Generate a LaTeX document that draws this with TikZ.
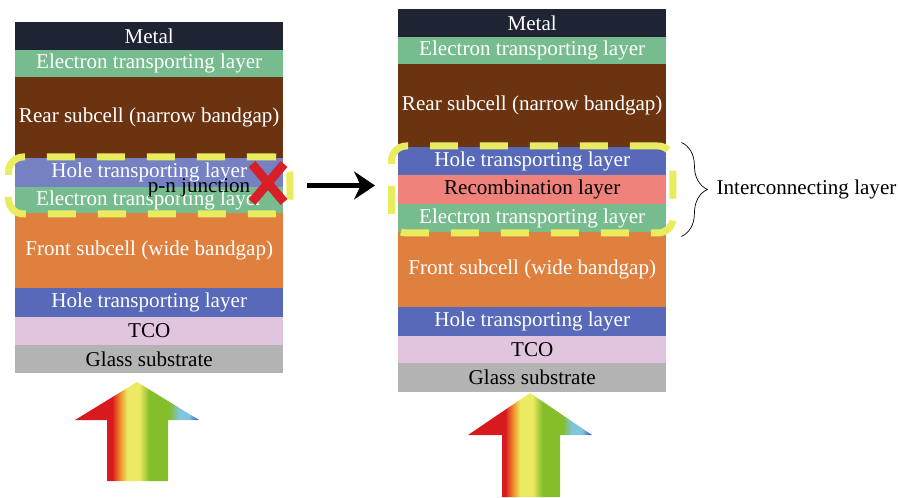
\documentclass[tikz,border=0pt]{standalone}
\usepackage{fontspec}
\setmainfont{Liberation Serif}
\usetikzlibrary{shapes.misc,arrows.meta,positioning,fit,decorations.pathreplacing}

\definecolor{metalc}{HTML}{1E2433}
\definecolor{etlc}{HTML}{77BC8E}
\definecolor{rearc}{HTML}{6C3311}
\definecolor{htlc}{HTML}{5769B8}
\definecolor{htllight}{HTML}{7581C2}
\definecolor{recombc}{HTML}{EF837C}
\definecolor{frontc}{HTML}{E0803F}
\definecolor{tcoc}{HTML}{E1C4DD}
\definecolor{glassc}{HTML}{B3B3B3}
\definecolor{dashyellow}{HTML}{E9EC5E}
\definecolor{crossred}{HTML}{D61F26}
\definecolor{rbred}{HTML}{D81A1E}
\definecolor{rborange}{HTML}{EE8A2A}
\definecolor{rbyellow}{HTML}{ECEA62}
\definecolor{rbgreen}{HTML}{84BE2A}
\definecolor{rbcyan}{HTML}{80C4DE}
\definecolor{rbblue}{HTML}{3A4AC0}

\pgfdeclarehorizontalshading{rainbow}{100bp}{color(0bp)=(rbred); color(40bp)=(rbred); color(43bp)=(rborange); color(46bp)=(rbyellow); color(51bp)=(rbyellow); color(55bp)=(rbgreen); color(63bp)=(rbgreen); color(67bp)=(rbcyan); color(71bp)=(rbcyan); color(75bp)=(rbblue); color(100bp)=(rbblue)}

\begin{document}
\begin{tikzpicture}[x=0.02cm, y=-0.02cm,
  font=\fontsize{12}{14}\selectfont,
  layer/.style={rectangle, inner sep=0pt, outer sep=0pt, minimum width=5.37cm, text=white},
  darktext/.style={text=black},
  junctionbox/.style={draw=dashyellow, line width=0.14cm, dash pattern=on 0.56cm off 0.44cm,
    rounded corners=0.3cm, inner xsep=0.13cm, inner ysep=0.02cm},
  flowarrow/.style={line width=0.1cm, -{Stealth[length=0.42cm, width=0.56cm]}},
  lightarrow/.style={shading=rainbow}]

  \useasboundingbox (0,0) rectangle (898,497);

  % Left stack: plain p-n junction between the subcells
  \node[layer, fill=metalc, minimum height=0.56cm, anchor=north west] (lmetal) at (15,22) {Metal};
  \node[layer, fill=etlc, minimum height=0.54cm, below=0pt of lmetal] (letltop) {Electron transporting layer};
  \node[layer, fill=rearc, minimum height=1.62cm, below=0pt of letltop] (lrear) {Rear subcell (narrow bandgap)};
  \node[layer, fill=htllight, minimum height=0.58cm, below=0pt of lrear] (lhtlmid) {Hole transporting layer};
  \node[layer, fill=etlc, minimum height=0.52cm, below=0pt of lhtlmid] (letlmid) {Electron transporting layer};
  \node[layer, fill=frontc, minimum height=1.50cm, below=0pt of letlmid] (lfront) {Front subcell (wide bandgap)};
  \node[layer, fill=htlc, minimum height=0.58cm, below=0pt of lfront] (lhtlbot) {Hole transporting layer};
  \node[layer, darktext, fill=tcoc, minimum height=0.56cm, below=0pt of lhtlbot] (ltco) {TCO};
  \node[layer, darktext, fill=glassc, minimum height=0.56cm, below=0pt of ltco] (lglass) {Glass substrate};

  % Right stack: with interconnecting layer
  \node[layer, fill=metalc, minimum height=0.56cm, anchor=north west] (rmetal) at (398,9) {Metal};
  \node[layer, fill=etlc, minimum height=0.54cm, below=0pt of rmetal] (retltop) {Electron transporting layer};
  \node[layer, fill=rearc, minimum height=1.66cm, below=0pt of retltop] (rrear) {Rear subcell (narrow bandgap)};
  \node[layer, fill=htlc, minimum height=0.56cm, below=0pt of rrear] (rhtlmid) {Hole transporting layer};
  \node[layer, darktext, fill=recombc, minimum height=0.58cm, below=0pt of rhtlmid] (rrecomb) {Recombination layer};
  \node[layer, fill=etlc, minimum height=0.56cm, below=0pt of rrecomb] (retlmid) {Electron transporting layer};
  \node[layer, fill=frontc, minimum height=1.50cm, below=0pt of retlmid] (rfront) {Front subcell (wide bandgap)};
  \node[layer, fill=htlc, minimum height=0.58cm, below=0pt of rfront] (rhtlbot) {Hole transporting layer};
  \node[layer, darktext, fill=tcoc, minimum height=0.54cm, below=0pt of rhtlbot] (rtco) {TCO};
  \node[layer, darktext, fill=glassc, minimum height=0.58cm, below=0pt of rtco] (rglass) {Glass substrate};

  % Dashed frames round the junctions
  \node[junctionbox, fit=(lhtlmid)(letlmid)] (ljunc) {};
  \node[junctionbox, fit=(rhtlmid)(retlmid)] (rjunc) {};

  \node (pnlabel) at (199,188) {p-n junction};
  \node[cross out, draw=crossred, line width=0.18cm, minimum width=0.46cm, minimum height=0.58cm, inner sep=0pt] (nojunc) at (268,183) {};

  \draw[flowarrow, shorten <=0.28cm, shorten >=0.26cm] (ljunc.east) -- (ljunc.east -| rjunc.west);

  % Interconnecting layer brace
  \draw[decorate, decoration={brace, amplitude=0.52cm}] ([xshift=0.1cm]rjunc.north east) -- ([xshift=0.1cm]rjunc.south east)
    node[midway, right=0.58cm] (iclabel) {Interconnecting layer};

  % Incident light
  \shade[lightarrow] (137,382) -- (199,420) -- (168,420) -- (168,481) -- (107,481) -- (107,420) -- (75,420) -- cycle;
  \shade[lightarrow] (530,393) -- (592,435) -- (560,435) -- (560,497) -- (502,497) -- (502,435) -- (468,435) -- cycle;
\end{tikzpicture}
\end{document}
